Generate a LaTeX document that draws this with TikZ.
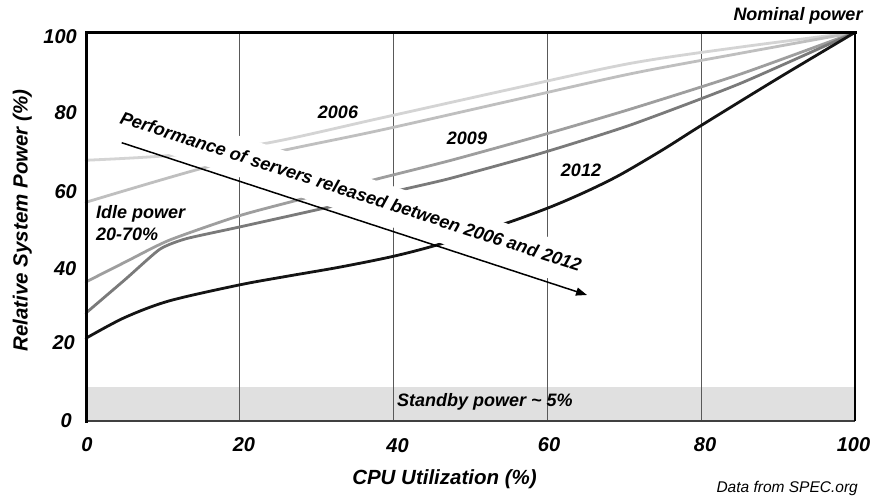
\documentclass[tikz,border=0pt]{standalone}
\usepackage{fontspec}
\setmainfont{Liberation Sans}
\usetikzlibrary{arrows.meta}
\begin{document}
\begin{tikzpicture}[x=1pt,y=-1pt,
  lbl/.style={font=\fontsize{18}{22}\selectfont\bfseries\itshape, inner sep=0pt},
  ticklbl/.style={font=\fontsize{20}{24}\selectfont\bfseries\itshape, inner sep=0pt},
  axlbl/.style={font=\fontsize{20.5}{24}\selectfont\bfseries\itshape, inner sep=0pt},
  note/.style={font=\fontsize{15.5}{18}\selectfont\itshape, inner sep=0pt},
  gridline/.style={draw=black!65, line width=1.2pt},
  curve/.style={line width=2.8pt, line cap=round, line join=round},
  trend/.style={line width=1.5pt, -{Triangle[length=11pt,width=8pt]}},
]
% page area
\fill[white] (0,0) rectangle (873,499);
\useasboundingbox (0,0) rectangle (873,499);

% plot area in data units (x: 0..100 %, y: 0..100 %)
\begin{scope}[shift={(86pt,-421pt)}, x=7.69pt, y=3.886pt]
  % standby band
  \fill[black!12] (0,0) rectangle (100,8.7);
  % vertical grid
  \foreach \gx in {20,40,60,80} \draw[gridline] (\gx,0) -- (\gx,100);
  % 2006 servers
  \draw[curve, black!17] plot[smooth, tension=0.5] coordinates
    {(0,67.1) (11.3,68.4) (23.5,71.5) (38.2,77.9) (55,85.3) (70.7,92.0) (85,96.2) (100,100)};
  \draw[curve, black!25] plot[smooth, tension=0.5] coordinates
    {(0,56.3) (15.6,65.3) (27,70.2) (38.2,74.8) (55,82.3) (70.7,89.3) (85,94.6) (100,100)};
  % 2009 servers
  \draw[curve, black!38] plot[smooth, tension=0.4] coordinates
    {(0,35.8) (5.2,41) (10.8,46.5) (19.9,52.8) (27.8,57.0) (36.9,61.8) (47.3,67.0) (59,73.4) (70.7,80.2) (85,89.2) (100,100)};
  \draw[curve, black!52] plot[smooth, tension=0.35] coordinates
    {(0,27.8) (5.2,36.6) (9.6,44.2) (13,46.9) (19.9,49.9) (31.7,55.1) (40.8,59.4) (47.3,62.4) (59,68.8) (70.7,76.1) (85,86.8) (100,100)};
  % 2012 servers
  \draw[curve, black!92] plot[smooth, tension=0.5] coordinates
    {(0,21.3) (5,26.6) (10.8,30.9) (19.9,35.0) (26,37.2) (33,39.6) (40,42.4) (46,45.5) (54.5,50.8) (60.3,55.0) (65,59.0) (69.4,63.3) (75,69.8) (80.2,76.3) (90,88.2) (100,100)};
\end{scope}

% clear strip under the trend caption
\fill[white] (118.1,137.5) -- (588.2,291.4) -- (600.4,254.1) -- (130.3,100.2) -- cycle;

% frame
\begin{scope}[shift={(86pt,-421pt)}, x=7.69pt, y=3.886pt]
  \draw[black!75, line width=2pt] (0,0) -- (100,0);
  \draw[black, line width=2.5pt] (100,0) -- (100,100);
  \draw[black, line width=3pt, line cap=rect] (0,0) -- (0,100) -- (100,100);
\end{scope}

% y tick labels
\node[ticklbl, anchor=east] (y100) at (77,36.5) {100};
\node[ticklbl, anchor=east] (y80)  at (77,112.8) {80};
\node[ticklbl, anchor=east] (y60)  at (77,192) {60};
\node[ticklbl, anchor=east] (y40)  at (76.5,268.3) {40};
\node[ticklbl, anchor=east] (y20)  at (75,342.7) {20};
\node[ticklbl, anchor=east] (y0)   at (72,421) {0};
% x tick labels
\node[ticklbl] (x0)   at (87,444.5) {0};
\node[ticklbl] (x20)  at (244,444.5) {20};
\node[ticklbl] (x40)  at (397.5,445.5) {40};
\node[ticklbl] (x60)  at (549,445) {60};
\node[ticklbl] (x80)  at (705,444.5) {80};
\node[ticklbl] (x100) at (853.5,444.5) {100};

% axis titles
\node[axlbl, anchor=base] (xtitle) at (444.5,484) {CPU Utilization (\%)};
\node[axlbl, anchor=base, rotate=90] (ytitle) at (27.5,220.5) {Relative System Power (\%)};

% annotations
\node[lbl, anchor=base] (nominal) at (798,20.5) {Nominal power};
\node[lbl] (y2006) at (338,112) {2006};
\node[lbl] (y2009) at (467,138.5) {2009};
\node[lbl] (y2012) at (581,170) {2012};
\node[lbl, anchor=base west] (idleA) at (96,218) {Idle power};
\node[lbl, anchor=base west] (idleB) at (96,240) {20-70\%};
\node[lbl, anchor=base west] (standby) at (397,406) {Standby power \char"7E{} 5\%};
\node[note, anchor=base east] (source) at (858,492) {Data from SPEC.org};

% trend caption and arrow
\node[lbl, anchor=base west, rotate=-17.9] (trendtxt) at (119,123)
  {Performance of servers released between 2006 and 2012};
\coordinate (arrS) at (121.7,142.7);
\coordinate (arrE) at (587,295);
\draw[trend] (arrS) -- (arrE);
\end{tikzpicture}
\end{document}
